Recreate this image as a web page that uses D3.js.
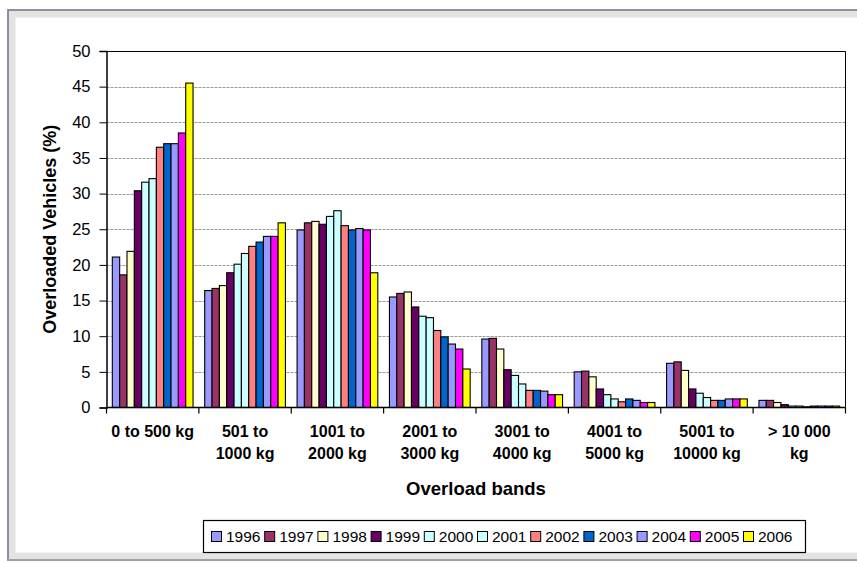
<!DOCTYPE html>
<html>
<head>
<meta charset="utf-8">
<script src="https://cdn.jsdelivr.net/npm/d3@7"></script>
<style>
  html, body { margin: 0; padding: 0; background: #ffffff; }
  svg { display: block; font-family: "Liberation Sans", Arial, sans-serif; }
</style>
</head>
<body>
<svg id="chart" width="857" height="563"></svg>
<script>
// Overload bands (x categories), each label split over lines
const bands = [
  ["0 to 500 kg"],
  ["501 to", "1000 kg"],
  ["1001 to", "2000 kg"],
  ["2001 to", "3000 kg"],
  ["3001 to", "4000 kg"],
  ["4001 to", "5000 kg"],
  ["5001 to", "10000 kg"],
  ["> 10 000", "kg"]
];

const years = ["1996","1997","1998","1999","2000","2001","2002","2003","2004","2005","2006"];

const yearColors = ["#9999FF","#993366","#FFFFCC","#660066","#CCFFFF","#CCFFFF",
                    "#FF8080","#0066CC","#9999FF","#FF00FF","#FFFF00"];

// Share of overloaded vehicles (%) per band, one array per year
const v1996 = [21.1, 16.4, 24.9, 15.5, 9.6, 5.0, 6.2, 1.0];
const v1997 = [18.6, 16.7, 25.9, 16.0, 9.7, 5.1, 6.4, 1.0];
const v1998 = [21.9, 17.1, 26.1, 16.2, 8.2, 4.3, 5.2, 0.7];
const v1999 = [30.4, 18.9, 25.7, 14.1, 5.3, 2.6, 2.6, 0.4];
const v2000 = [31.6, 20.1, 26.8, 12.8, 4.5, 1.8, 2.0, 0.2];
const v2001 = [32.1, 21.6, 27.6, 12.6, 3.3, 1.2, 1.4, 0.2];
const v2002 = [36.5, 22.6, 25.5, 10.8, 2.4, 0.8, 1.0, 0.1];
const v2003 = [37.0, 23.2, 24.9, 9.9, 2.4, 1.2, 1.0, 0.2];
const v2004 = [37.0, 24.0, 25.1, 8.9, 2.3, 1.0, 1.2, 0.2];
const v2005 = [38.5, 24.0, 24.9, 8.2, 1.8, 0.7, 1.2, 0.2];
const v2006 = [45.5, 25.9, 18.9, 5.4, 1.8, 0.7, 1.2, 0.2];

const seriesValues = [v1996, v1997, v1998, v1999, v2000, v2001, v2002, v2003, v2004, v2005, v2006];

const yTicks = [0, 5, 10, 15, 20, 25, 30, 35, 40, 45, 50];

const yTitle = "Overloaded Vehicles (%)";
const xTitle = "Overload bands";

const svg = d3.select("#chart");

// Outer chart frame
svg.append("rect")
  .attr("x", 12).attr("y", 14).attr("width", 870).attr("height", 542)
  .attr("fill", "none").attr("stroke", "#e3e3e3").attr("stroke-width", 7);
svg.append("rect")
  .attr("x", 8).attr("y", 10).attr("width", 880).attr("height", 550)
  .attr("fill", "none").attr("stroke", "#8a809a").attr("stroke-width", 1.8);
svg.append("line")
  .attr("x1", 8).attr("x2", 857).attr("y1", 560).attr("y2", 560)
  .attr("stroke", "#a9a9a9").attr("stroke-width", 1.5);

const plot = { left: 106.5, right: 845.5, top: 51, bottom: 407.5 };

const x0 = d3.scaleBand()
  .domain(d3.range(bands.length))
  .range([plot.left, plot.right])
  .paddingInner(0.126)
  .paddingOuter(0.063);

const x1 = d3.scaleBand()
  .domain(years)
  .range([0, x0.bandwidth()])
  .padding(0);

const y = d3.scaleLinear()
  .domain([0, 50])
  .range([plot.bottom, plot.top]);

// Horizontal gridlines
svg.append("g")
  .selectAll("line")
  .data(yTicks.filter(t => t > 0))
  .join("line")
  .attr("x1", plot.left).attr("x2", plot.right)
  .attr("y1", d => Math.round(y(d)) + 0.5).attr("y2", d => Math.round(y(d)) + 0.5)
  .attr("stroke", "#9a9a9a").attr("stroke-width", 1)
  .attr("stroke-dasharray", "3,1");

// Plot area border (top and right)
svg.append("path")
  .attr("d", `M${plot.left},${plot.top + 0.5}H${plot.right}V${plot.bottom}`)
  .attr("fill", "none").attr("stroke", "#000").attr("stroke-width", 1);

// Bars
const groups = svg.append("g")
  .selectAll("g")
  .data(bands.map((b, i) => i))
  .join("g")
  .attr("transform", i => `translate(${x0(i)},0)`);

groups.selectAll("rect")
  .data(i => years.map((yr, k) => ({ yr, k, v: seriesValues[k][i] })))
  .join("rect")
  .attr("x", d => x1(d.yr))
  .attr("y", d => y(d.v))
  .attr("width", x1.bandwidth())
  .attr("height", d => y(0) - y(d.v))
  .attr("fill", d => yearColors[d.k])
  .attr("stroke", "#000")
  .attr("stroke-width", 1.1);

// Y axis
const yAxis = d3.axisLeft(y)
  .tickValues(yTicks)
  .tickSize(7)
  .tickPadding(9)
  .tickFormat(d3.format("d"));

const gy = svg.append("g")
  .attr("transform", `translate(${plot.left},0)`)
  .call(yAxis);
gy.select(".domain").attr("stroke", "#000").attr("stroke-width", 1.5);
gy.selectAll(".tick line").attr("stroke", "#000");
gy.selectAll(".tick text")
  .attr("font-family", "Liberation Sans, Arial, sans-serif")
  .attr("font-size", 16.5).attr("fill", "#000");

// X axis: baseline and ticks between bands
const boundaries = d3.range(bands.length + 1).map(i => plot.left + i * x0.step());
svg.append("line")
  .attr("x1", plot.left).attr("x2", plot.right)
  .attr("y1", plot.bottom).attr("y2", plot.bottom)
  .attr("stroke", "#000").attr("stroke-width", 1.5);
svg.append("g")
  .selectAll("line")
  .data(boundaries)
  .join("line")
  .attr("x1", d => d).attr("x2", d => d)
  .attr("y1", plot.bottom).attr("y2", plot.bottom + 6)
  .attr("stroke", "#000").attr("stroke-width", 1.2);

// Category labels
const catLabels = svg.append("g")
  .selectAll("text")
  .data(bands.map((lines, i) => ({ lines, i })))
  .join("text")
  .attr("text-anchor", "middle")
  .attr("font-weight", "bold")
  .attr("font-size", 16)
  .attr("fill", "#000");
catLabels.selectAll("tspan")
  .data(d => d.lines.map(l => ({ l, i: d.i })))
  .join("tspan")
  .attr("x", d => x0(d.i) + x0.bandwidth() / 2)
  .attr("y", (d, j) => 437 + j * 22)
  .text(d => d.l);

// Axis titles
svg.append("text")
  .attr("x", (plot.left + plot.right) / 2)
  .attr("y", 495)
  .attr("text-anchor", "middle")
  .attr("font-weight", "bold")
  .attr("font-size", 18.5)
  .text(xTitle);

svg.append("text")
  .attr("transform", `translate(56,${(plot.top + plot.bottom) / 2}) rotate(-90)`)
  .attr("text-anchor", "middle")
  .attr("font-weight", "bold")
  .attr("font-size", 18)
  .text(yTitle);

// Legend
const legend = svg.append("g");
legend.append("rect")
  .attr("x", 203.5).attr("y", 520.5).attr("width", 602).attr("height", 32)
  .attr("fill", "#fff").attr("stroke", "#000").attr("stroke-width", 1.2);

const item = legend.selectAll("g.item")
  .data(years)
  .join("g")
  .attr("class", "item")
  .attr("transform", (d, k) => `translate(${211.5 + k * 53.2},531.5)`);
item.append("rect")
  .attr("width", 10).attr("height", 10)
  .attr("fill", (d, k) => yearColors[k])
  .attr("stroke", "#000").attr("stroke-width", 1);
item.append("text")
  .attr("x", 14.5).attr("y", 10.5)
  .attr("font-size", 15.5)
  .text(d => d);
</script>
</body>
</html>
